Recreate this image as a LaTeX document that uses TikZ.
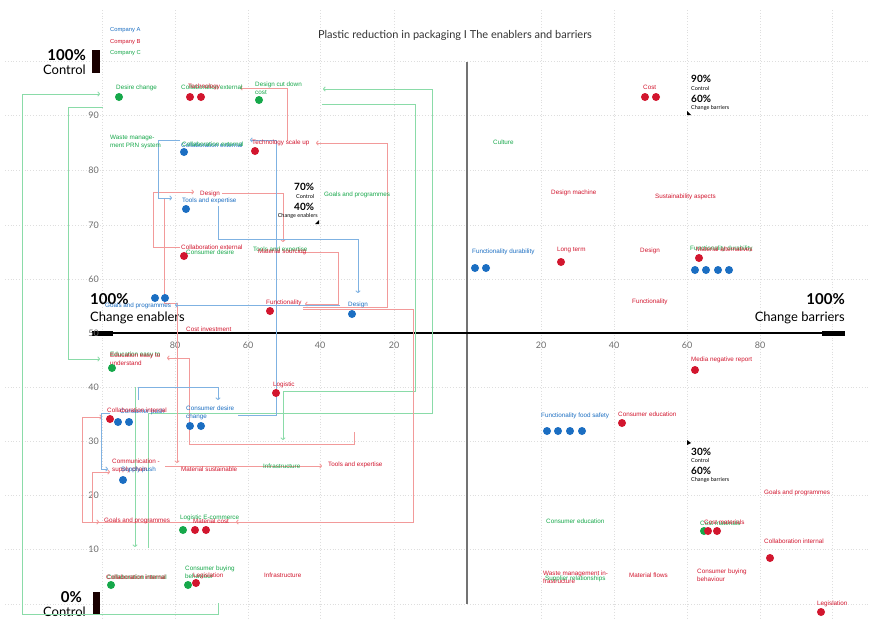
\documentclass[tikz,border=0pt]{standalone}
\usepackage{fontspec}
\setmainfont{Lato}
\newfontfamily\lab{Liberation Sans}
\usetikzlibrary{arrows.meta}
\definecolor{cA}{HTML}{1B6EC2}
\definecolor{cB}{HTML}{D2162E}
\definecolor{cC}{HTML}{16A84A}
\definecolor{lA}{HTML}{7FB2E2}
\definecolor{lB}{HTML}{F29A9A}
\definecolor{lC}{HTML}{8ADBA8}
\definecolor{tick}{HTML}{6E6E6E}
\tikzset{
  lbl/.style={font=\lab\fontsize{6.3}{8.2}\selectfont, anchor=west, inner sep=0pt, align=left},
  la/.style={lbl, text=cA},
  lb/.style={lbl, text=cB},
  lc/.style={lbl, text=cC},
  dot/.style={circle, inner sep=0pt, minimum size=8pt},
  dA/.style={dot, fill=cA},
  dB/.style={dot, fill=cB},
  dC/.style={dot, fill=cC},
  tip/.style={-{To[length=2.6pt,width=5pt]}},
  conA/.style={draw=lA, line width=0.9pt, tip},
  conB/.style={draw=lB, line width=0.9pt, tip},
  conC/.style={draw=lC, line width=0.9pt, tip},
  gridline/.style={draw=black!13, dotted, line width=0.8pt},
  ticklbl/.style={font=\fontsize{9}{10}\selectfont, text=tick, inner sep=0pt},
  pct/.style={font=\bfseries\fontsize{10}{11}\selectfont, anchor=west, inner sep=0pt},
  pctsub/.style={font=\fontsize{5.5}{6}\selectfont, anchor=west, inner sep=0pt},
  bigpct/.style={font=\bfseries\fontsize{15}{16}\selectfont, inner sep=0pt},
  bigsub/.style={font=\fontsize{13}{14}\selectfont, inner sep=0pt},
}
\begin{document}
\begin{tikzpicture}[x=1pt,y=-1pt]
\useasboundingbox (0,0) rectangle (874,624);
\fill[white] (0,0) rectangle (874,624);

% dotted grid
\foreach \gx in {102,175,248,320,394,541,614,687,760,832}
  \draw[gridline] (\gx,10) -- (\gx,620);
\foreach \gy in {61,115,170,225,279,387,441,495,549,604}
  \draw[gridline] (5,\gy) -- (870,\gy);

% axes
\draw[draw=black!55, line width=1.4pt] (467,62) -- (467,604);
\draw[line width=1.1pt] (92,333) -- (845,333);
\fill[black] (92,331) rectangle (113,335.5);
\fill[black] (822,331) rectangle (845,335.5);

% tick labels
\foreach \v/\py in {90/115,80/170,70/225,60/279,50/333,40/387,30/441,20/495,10/549}
  \node[ticklbl, anchor=east] (ty\v) at (99,\py) {\v};
\foreach \v/\px in {80/175,60/248,40/320,20/394}
  \node[ticklbl] (txl\v) at (\px,345) {\v};
\foreach \v/\px in {20/541,40/614,60/687,80/760}
  \node[ticklbl] (txr\v) at (\px,345) {\v};

% control scale
\fill[black!90!red] (92,50) rectangle (100,73);
\node[bigpct, anchor=east] (ctop) at (86,55) {100\%};
\node[bigsub, anchor=east] (ctopl) at (86,70) {Control};
\fill[black!90!red] (93,592) rectangle (100,615);
\node[bigpct, anchor=east] (cbot) at (82,597) {0\%};
\node[bigsub, anchor=east] (cbotl) at (86,612) {Control};

% change scale
\node[bigpct, anchor=west] (enp) at (90,299) {100\%};
\node[bigsub, anchor=west] (enl) at (90,318) {Change enablers};
\node[bigpct, anchor=east] (bap) at (845,299) {100\%};
\node[bigsub, anchor=east] (bal) at (845,318) {Change barriers};

% title and legend
\node[font=\fontsize{11}{12}\selectfont, text=black!80, inner sep=0pt] (title) at (455,35) {Plastic reduction in packaging I The enablers and barriers};
\node[lbl, text=cA, font=\lab\fontsize{5.8}{6}\selectfont] (legA) at (110,30) {Company A};
\node[lbl, text=cB, font=\lab\fontsize{5.8}{6}\selectfont] (legB) at (110,42) {Company B};
\node[lbl, text=cC, font=\lab\fontsize{5.8}{6}\selectfont] (legC) at (110,53) {Company C};

% ---------- connectors ----------
% green
\coordinate (g1s) at (218,603); \coordinate (g1e) at (100,94);
\draw[conC] (g1s) -- (218,614) -- (22,614) -- (22,94) -- (g1e);
\coordinate (g2s) at (103,107); \coordinate (g2e) at (100,359);
\draw[conC] (g2s) -- (68,107) -- (68,359) -- (g2e);
\coordinate (g3s) at (148,548); \coordinate (g3e) at (323,89);
\draw[conC] (g3s) -- (148,413) -- (432,413) -- (432,89) -- (g3e);
\coordinate (g4s) at (322,104); \coordinate (g4e) at (283,440);
\draw[conC] (g4s) -- (415,104) -- (415,391) -- (283,391) -- (g4e);
\coordinate (g5s) at (135,387); \coordinate (g5e) at (135,547);
\draw[conC] (g5s) -- (g5e);

% red
\coordinate (r1s) at (287,141); \coordinate (r1e) at (240,88);
\draw[conB] (r1s) -- (287,88) -- (r1e);
\coordinate (r2s) at (303,307); \coordinate (r2e) at (316,143);
\draw[conB] (r2s) -- (387,307) -- (387,143) -- (r2e);
\coordinate (r3s) at (300,252); \coordinate (r3e) at (305,304);
\draw[conB] (r3s) -- (338,252) -- (338,304) -- (r3e);
\coordinate (r4s) at (180,247); \coordinate (r4e) at (194,192);
\draw[conB] (r4s) -- (153,247) -- (153,192) -- (r4e);
\coordinate (r5s) at (222,193); \coordinate (r5e) at (283,242);
\draw[conB] (r5s) -- (283,193) -- (r5e);
\coordinate (r6s) at (164,199); \coordinate (r6e) at (177,463);
\draw[conB] (r6s) -- (164,303) -- (177,303) -- (r6e);
\coordinate (r7s) at (354,432); \coordinate (r7e) at (167,358);
\draw[conB] (r7s) -- (354,444) -- (189,444) -- (189,358) -- (r7e);
\coordinate (r8s) at (165,466); \coordinate (r8e) at (322,466);
\draw[conB] (r8s) -- (r8e);
\coordinate (r9s) at (303,309); \coordinate (r9e) at (102,417);
\draw[conB] (r9s) -- (413,309) -- (413,522) -- (82,522) -- (82,417) -- (r9e);
\coordinate (r10s) at (92,522); \coordinate (r10e) at (110,472);
\draw[conB] (r10s) -- (92,472) -- (r10e);
\coordinate (r11e) at (99,522);
\draw[conB] (r10s) -- (r11e);
\coordinate (r12s) at (243,522); \coordinate (r12e) at (236,522);
\draw[conB] (r12s) -- (r12e);

% blue
\coordinate (b1s) at (238,415); \coordinate (b1e) at (250,140);
\draw[conA] (b1s) -- (276,415) -- (276,140) -- (b1e);
\coordinate (b2s) at (180,140); \coordinate (b2e) at (172,198);
\draw[conA] (b2s) -- (158,140) -- (158,198) -- (b2e);
\coordinate (b3s) at (218,206); \coordinate (b3e) at (358,293);
\draw[conA] (b3s) -- (218,239) -- (358,239) -- (b3e);
\coordinate (b4s) at (340,305); \coordinate (b4e) at (175,305);
\draw[conA] (b4s) -- (b4e);
\coordinate (b5s) at (138,400); \coordinate (b5e) at (218,400);
\draw[conA] (b5s) -- (138,387) -- (218,387) -- (b5e);
\coordinate (b6s) at (110,413); \coordinate (b6e) at (108,469);
\draw[conA] (b6s) -- (101,413) -- (101,469) -- (b6e);

% ---------- top left quadrant ----------
\node[lc] (n1) at (116,88) {Desire change};
\node[dC] (d1) at (119,97) {};
\node[lc] (n2) at (181,87) {Collaboration external};
\node[lb] (n3) at (188,87) {Technology};
\node[dB] (d2) at (190,97) {};
\node[dB] (d3) at (201,97) {};
\node[lc] (n4) at (255,88) {Design cut down\\cost};
\node[dC] (d4) at (259,100) {};
\node[lc] (n5) at (110,142) {Waste manage-\\ment PRN system};
\node[la] (n6) at (181,145) {Collaboration external};
\node[lc] (n7) at (182,144) {Collaboration external};
\node[dA] (d5) at (184,152) {};
\node[lb] (n8) at (252,143) {Technology scale up};
\node[dB] (d6) at (255,151) {};
\node[lb] (n9) at (200,194) {Design};
\node[la] (n10) at (182,201) {Tools and expertise};
\node[dA] (d7) at (186,209) {};
\node[pct] (p1) at (294,187) {70\%};
\node[pctsub] (p1c) at (296,196) {Control};
\node[pct] (p2) at (294,207) {40\%};
\node[pctsub, anchor=east] (p2c) at (318,216) {Change enablers};
\fill[black] (315,224) -- (319,220) -- (319,224) -- cycle;
\node[lc] (n11) at (324,195) {Goals and programmes};
\node[lb] (n12) at (181,247) {Collaboration external};
\node[lc] (n13) at (186,252) {Consumer desire};
\node[dB] (d8) at (184,256) {};
\node[lc] (n14) at (253,250) {Tools and expertise};
\node[lb] (n15) at (258,252) {Material sourcing};
\node[la] (n16) at (105,306) {Goals and programmes};
\node[dA] (d9) at (155,298) {};
\node[dA] (d10) at (165,298) {};
\node[lb] (n17) at (266,303) {Functionality};
\node[dB] (d11) at (270,311) {};
\node[la] (n18) at (348,305) {Design};
\node[dA] (d12) at (352,314) {};
\node[lb] (n19) at (186,329) {Cost investment};

% ---------- top right quadrant ----------
\node[lb] (m1) at (643,87) {Cost};
\node[dB] (e1) at (645,97) {};
\node[dB] (e2) at (656,97) {};
\node[pct] (q1) at (691,79) {90\%};
\node[pctsub] (q1c) at (691,88) {Control};
\node[pct] (q2) at (691,99) {60\%};
\node[pctsub] (q2c) at (691,108) {Change barriers};
\fill[black] (687,111) -- (691,115) -- (687,115) -- cycle;
\node[lc] (m2) at (493,142) {Culture};
\node[lb] (m3) at (551,193) {Design machine};
\node[lb] (m4) at (655,197) {Sustainability aspects};
\node[la] (m5) at (472,252) {Functionality durability};
\node[dA] (e3) at (475,268) {};
\node[dA] (e4) at (486,268) {};
\node[lb] (m6) at (557,250) {Long term};
\node[dB] (e5) at (561,262) {};
\node[lb] (m7) at (640,251) {Design};
\node[lc] (m8) at (690,249) {Functionality durability};
\node[lb] (m9) at (696,249) {Material alternatives};
\node[dB] (e6) at (699,258) {};
\node[dA] (e7) at (695,270) {};
\node[dA] (e8) at (706,270) {};
\node[dA] (e9) at (718,270) {};
\node[dA] (e10) at (729,270) {};
\node[lb] (m10) at (632,302) {Functionality};

% ---------- bottom left quadrant ----------
\node[lc] (k1) at (110,355) {Education easy to};
\node[lb] (k2) at (110,359) {Education easy to\\understand};
\node[dC] (f1) at (112,368) {};
\node[lb] (k3) at (273,385) {Logistic};
\node[dB] (f2) at (276,393) {};
\node[la] (k4) at (120,412) {Consumer push};
\node[lb] (k5) at (107,410) {Collaboration internal};
\node[dB] (f3) at (110,419) {};
\node[dA] (f4) at (118,422) {};
\node[dA] (f5) at (129,422) {};
\node[la] (k6) at (186,413) {Consumer desire\\change};
\node[dA] (f6) at (190,426) {};
\node[dA] (f7) at (201,426) {};
\node[lb] (k7) at (112,466) {Communication -\\supply chain};
\node[la] (k8) at (121,470) {Supply push};
\node[dA] (f8) at (123,480) {};
\node[lb] (k9) at (181,469) {Material sustainable};
\node[lc] (k10) at (263,466) {Infrastructure};
\node[lb] (k11) at (328,465) {Tools and expertise};
\node[lb] (k12) at (104,521) {Goals and programmes};
\node[lc] (k13) at (180,518) {Logistic E-commerce};
\node[lb] (k14) at (193,521) {Material cost};
\node[dC] (f9) at (183,530) {};
\node[dB] (f10) at (195,530) {};
\node[dB] (f11) at (206,530) {};
\node[lc] (k15) at (107,577) {Collaboration internal};
\node[lb] (k16) at (106,577) {Collaboration internal};
\node[dC] (f12) at (111,585) {};
\node[lc] (k17) at (185,572) {Consumer buying\\behaviour};
\node[lb] (k18) at (193,576) {Legislation};
\node[dC] (f13) at (188,585) {};
\node[dB] (f14) at (196,583) {};
\node[lb] (k19) at (264,575) {Infrastructure};

% ---------- bottom right quadrant ----------
\node[lb] (h1) at (691,360) {Media negative report};
\node[dB] (j1) at (695,370) {};
\node[la] (h2) at (541,416) {Functionality food safety};
\node[dA] (j2) at (547,431) {};
\node[dA] (j3) at (558,431) {};
\node[dA] (j4) at (570,431) {};
\node[dA] (j5) at (582,431) {};
\node[lb] (h3) at (618,414) {Consumer education};
\node[dB] (j6) at (622,423) {};
\fill[black] (687,440) -- (691,443) -- (687,445) -- cycle;
\node[pct] (s1) at (691,452) {30\%};
\node[pctsub] (s1c) at (691,460) {Control};
\node[pct] (s2) at (691,471) {60\%};
\node[pctsub] (s2c) at (691,480) {Change barriers};
\node[lb] (h4) at (764,493) {Goals and programmes};
\node[lc] (h5) at (546,521) {Consumer education};
\node[lc] (h6) at (700,523) {Cost materials};
\node[lb] (h7) at (704,522) {Cost materials};
\node[dC] (j7) at (704,531) {};
\node[dB] (j8) at (708,531) {};
\node[dB] (j9) at (717,531) {};
\node[lb] (h8) at (764,541) {Collaboration internal};
\node[dB] (j10) at (770,558) {};
\node[lb] (h9) at (543,577) {Waste management in-\\frastructure};
\node[lc] (h10) at (545,579) {Supplier relationships};
\node[lb] (h11) at (629,575) {Material flows};
\node[lb] (h12) at (697,575) {Consumer buying\\behaviour};
\node[lb] (h13) at (817,604) {Legislation};
\node[dB] (j11) at (821,612) {};
\end{tikzpicture}
\end{document}
